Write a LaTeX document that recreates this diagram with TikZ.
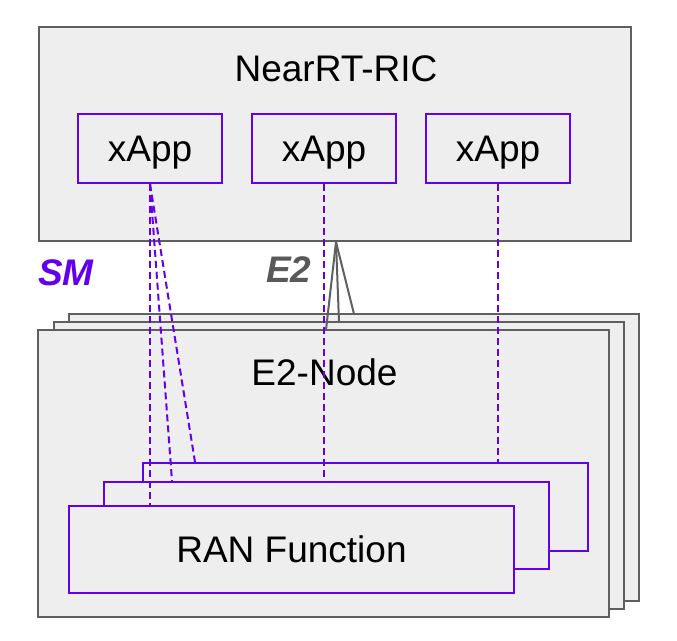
\documentclass[tikz,border=0pt]{standalone}
\usepackage{fontspec}
\setmainfont{Liberation Sans}
\usetikzlibrary{calc}
\definecolor{vio}{HTML}{6200EE}
\definecolor{bord}{HTML}{5F5F5F}
\definecolor{boxfill}{HTML}{EEEEEE}
\definecolor{e2grey}{HTML}{595959}
\tikzset{
  greybox/.style={draw=bord, fill=boxfill, line width=2pt, inner sep=0pt},
  viobox/.style={draw=vio, fill=boxfill, line width=2pt, inner sep=0pt, font=\fontsize{37}{44}\selectfont},
  txt/.style={font=\fontsize{37}{44}\selectfont, inner sep=0pt, anchor=base},
  smline/.style={draw=vio, line width=2pt, dash pattern=on 7pt off 4pt},
  e2line/.style={draw=bord, line width=2pt},
  lbl/.style={font=\fontsize{37}{44}\selectfont\bfseries\itshape, inner sep=0pt, anchor=base west}
}
\begin{document}
\begin{tikzpicture}[x=1pt,y=-1pt]
\useasboundingbox[fill=white] (0,0) rectangle (677,640);
% NearRT-RIC
\node[greybox, minimum width=592pt, minimum height=214pt] (ric) at (335,134) {};
\node[txt] (rictxt) at (336,81) {NearRT-RIC};
% xApps
\node[viobox, minimum width=144pt, minimum height=69pt, text depth=0pt] (x1) at (150,148.5) {xApp};
\node[viobox, minimum width=144pt, minimum height=69pt, text depth=0pt] (x2) at (324,148.5) {xApp};
\node[viobox, minimum width=144pt, minimum height=69pt, text depth=0pt] (x3) at (498,148.5) {xApp};
% E2-Node stack
\node[greybox, minimum width=570pt, minimum height=287pt] (eb) at (354,457.5) {};
\node[greybox, minimum width=570pt, minimum height=287pt] (em) at (339,465.5) {};
\node[greybox, minimum width=571pt, minimum height=287pt] (ef) at (323.5,473.5) {};
\node[txt] (eftxt) at (324.5,385) {E2-Node};
% E2 connector
\coordinate (apex) at ($(ric.south)+(1,0)$);
\coordinate (e2f) at (326,330);
\coordinate (e2m) at (339,322);
\coordinate (e2b) at (354,314);
\draw[e2line] (apex) -- (e2f);
\draw[e2line] (apex) -- (e2m);
\draw[e2line] (apex) -- (e2b);
% RAN functions
\node[viobox, minimum width=445pt, minimum height=88pt] (pb) at (365.5,507) {};
\node[viobox, minimum width=445pt, minimum height=87pt] (pm) at (326.5,525.5) {};
\node[viobox, minimum width=445pt, minimum height=87pt] (pf) at (291.5,549.5) {RAN Function};
% SM dashed lines
\draw[smline] (x1.south) -- (x1.south |- pf.north);
\draw[smline] (x1.south) -- ($(pm.north west)+(69,0)$);
\draw[smline] (x1.south) -- ($(pb.north west)+(53,0)$);
\draw[smline] (x2.south) -- ($(pm.north west)+(221,0)$);
\draw[smline] (x3.south) -- (x3.south |- pb.north);
% labels
\node[lbl, text=vio] (sm) at (38,285) {SM};
\node[lbl, text=e2grey] (e2) at (266,282) {E2};
\end{tikzpicture}
\end{document}
